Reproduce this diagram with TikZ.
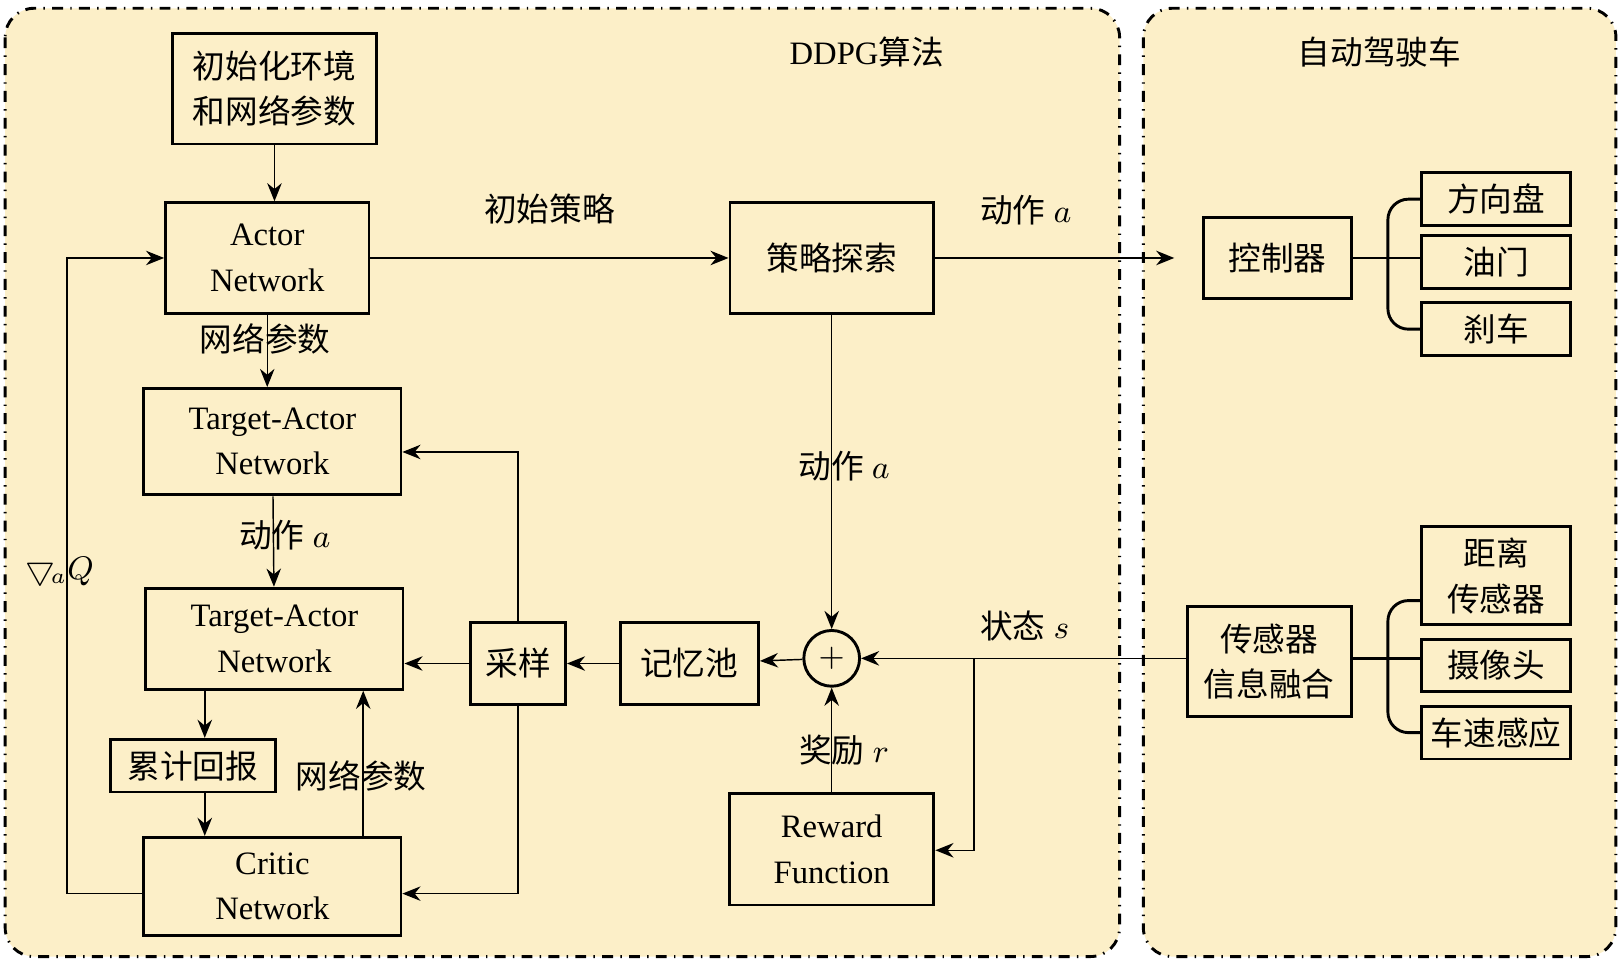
\documentclass[tikz,border=0pt]{standalone}
\usepackage{fontspec}
\setmainfont{Liberation Serif}
\newfontfamily\cjk{Noto Sans CJK SC}
\usetikzlibrary{positioning,arrows.meta}
\definecolor{panelbg}{HTML}{FCEFC8}

\begin{document}
\begin{tikzpicture}[
    x=0.01cm, y=-0.01cm,
    font=\fontsize{9pt}{12.5pt}\selectfont,
    panel/.style={
      draw,
      dash dot,
      thick,
      rounded corners=8pt,
      fill=panelbg
    },
    blk/.style={
      draw,
      thick,
      align=center,
      inner sep=0pt
    },
    lbl/.style={
      fill=none,
      inner sep=1pt
    },
    >={Stealth[length=5pt,width=4pt]}
    ]
    \useasboundingbox (0,0) rectangle (1568,930);
    \draw[panel] (5,8) rectangle (1085,927);
    \draw[panel] (1108,8) rectangle (1566,927);
    \node (ddpg) at (840,50) {DDPG{\cjk 算法}};
    \node (car) at (1337,50) {\cjk 自动驾驶车};

    % left part
    \node[blk, minimum width=1.97cm, minimum height=1.07cm] (init) at (266,86) {\cjk 初始化环境\\\cjk 和网络参数};
    \node[blk, minimum width=1.97cm, minimum height=1.07cm] (actor) at (259,250) {Actor\\Network};
    \node[blk, minimum width=2.49cm, minimum height=1.03cm] (tact) at (264,428) {Target-Actor\\Network};
    \node[blk, minimum width=2.49cm, minimum height=0.98cm] (tact2) at (266,619) {Target-Actor\\Network};
    \node[blk, minimum width=1.60cm, minimum height=0.51cm] (ret) at (187,742) {\cjk 累计回报};
    \node[blk, minimum width=2.49cm, minimum height=0.95cm] (critic) at (264,859) {Critic\\Network};
    \node[blk, minimum width=0.92cm, minimum height=0.80cm] (sample) at (502,643) {\cjk 采样};
    \node[blk, minimum width=1.34cm, minimum height=0.80cm] (pool) at (668,643) {\cjk 记忆池};
    \node[draw, thick, circle, minimum size=0.54cm, inner sep=0pt] (sum) at (806,638) {$+$};
    \node[blk, minimum width=1.98cm, minimum height=1.08cm] (reward) at (806,823) {Reward\\Function};
    \node[blk, minimum width=1.97cm, minimum height=1.07cm] (explore) at (806,250) {\cjk 策略探索};

    % right part
    \node[blk, minimum width=1.43cm, minimum height=0.78cm] (ctrl) at (1238,250) {\cjk 控制器};
    \node[blk, minimum width=1.44cm, minimum height=0.51cm] (wheel) at (1450,193) {\cjk 方向盘};
    \node[blk, minimum width=1.44cm, minimum height=0.51cm] (gas) at (1450,254) {\cjk 油门};
    \node[blk, minimum width=1.44cm, minimum height=0.51cm] (brake) at (1450,319) {\cjk 刹车};
    \node[blk, minimum width=1.59cm, minimum height=1.07cm] (fuse) at (1230,641) {\cjk 传感器\\\cjk 信息融合};
    \node[blk, minimum width=1.44cm, minimum height=0.95cm] (dist) at (1450,558) {\cjk 距离\\\cjk 传感器};
    \node[blk, minimum width=1.44cm, minimum height=0.51cm] (cam) at (1450,645) {\cjk 摄像头};
    \node[blk, minimum width=1.44cm, minimum height=0.51cm] (speed) at (1450,710) {\cjk 车速感应};
    \coordinate (cin) at (1138,250);
    \coordinate (tap) at (944,638);

    \draw[->] (init) -- (init|-actor.north);
    \draw[->] (actor.south) -- (actor.south|-tact.north);
    \node[lbl] at (257,328) {\cjk 网络参数};
    \draw[->] (actor) -- node[lbl, above=8pt] {\cjk 初始策略} (explore);
    \draw[->] (explore) -- node[lbl, above=8pt, pos=0.38] {{\cjk 动作} $a$} (cin);
    \draw[->] (explore) -- (sum);
    \node[lbl] at (818,452) {{\cjk 动作} $a$};
    \draw[->] (fuse.west|-sum) -- (sum);
    \node[lbl] at (993,607) {{\cjk 状态} $s$};
    \draw[->] (tap) |- (reward.east|-{(0,824)});
    \draw[->] (reward) -- (sum);
    \node[lbl] at (818,727) {{\cjk 奖励} $r$};
    \draw[->] (sum) -- (pool);
    \draw[->] (pool) -- (sample);
    \draw[->] (sample) -- (sample-|tact2.east);
    \draw[->] (sample.north) |- (tact.east|-{(0,438)});
    \draw[->] (sample.south) |- (critic.east|-{(0,866)});
    \draw[->] (tact) -- (tact2);
    \node[lbl] at (276,519) {{\cjk 动作} $a$};
    \draw[->] (tact2.south-|ret.east) ++(-70,0) coordinate (rt) -- (rt|-ret.north);
    \draw[->] (rt|-ret.south) -- (rt|-critic.north);
    \draw[->] (critic.north-|{(352,0)}) -- (tact2.south-|{(352,0)});
    \node[lbl] at (350,752) {\cjk 网络参数};
    \draw[->] (critic.west|-{(0,866)}) -| (65,250) -- (actor.west);
    \node[lbl] at (58,554) {$\bigtriangledown_{\!a}Q$};

    % brackets
    \draw[thick] (ctrl.east) -- (ctrl.east-|gas.west);
    \draw[thick] (wheel.west) -- (1365,193) to[out=180,in=90] (1345,213)
      -- (1345,299) to[out=-90,in=180] (1365,319) -- (brake.west);
    \draw[thick] (fuse.east|-{(0,638)}) -- (cam.west|-{(0,638)});
    \draw[thick] (dist.west|-{(0,582)}) -- (1365,582) to[out=180,in=90] (1345,602)
      -- (1345,690) to[out=-90,in=180] (1365,710) -- (speed.west);
\end{tikzpicture}
\end{document}
